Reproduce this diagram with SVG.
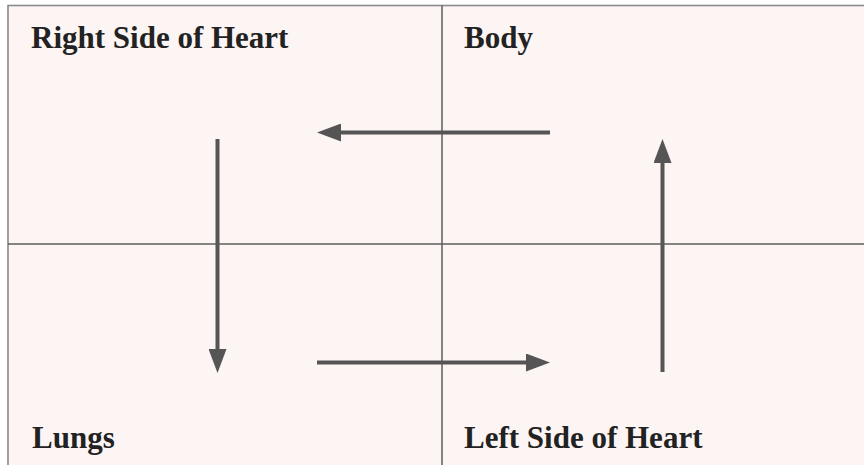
<svg xmlns="http://www.w3.org/2000/svg" width="864" height="465" viewBox="0 0 864 465">
<style>
.lbl{font-family:"Liberation Serif","Times New Roman",serif;font-weight:bold;font-size:31px;fill:#222;}
.div{stroke:#5e5e5e;stroke-width:1.5;fill:none;}
.arr{stroke:#555;stroke-width:4;fill:none;marker-end:url(#ah);}
</style>
<defs>
<marker id="ah" markerUnits="userSpaceOnUse" markerWidth="24" markerHeight="18" viewBox="0 0 24 18" refX="0" refY="9" orient="auto">
<path d="M0,0 L24,9 L0,18 z" fill="#555"/>
</marker>
</defs>
<rect x="0" y="0" width="864" height="465" fill="#ffffff"/>
<rect x="8" y="5.5" width="870" height="470" fill="#fdf5f4" stroke="#8a8a8a" stroke-width="1.6"/>
<g id="grid">
<line class="div" x1="442" y1="5.5" x2="442" y2="465"/>
<line class="div" x1="8" y1="244" x2="864" y2="244"/>
</g>
<g id="node-right-heart"><text class="lbl" x="31" y="48">Right Side of Heart</text></g>
<g id="node-body"><text class="lbl" x="464" y="48">Body</text></g>
<g id="node-lungs"><text class="lbl" x="32" y="448">Lungs</text></g>
<g id="node-left-heart"><text class="lbl" x="464" y="448">Left Side of Heart</text></g>
<g id="connectors">
<line class="arr" x1="550" y1="132.5" x2="341" y2="132.5"/>
<line class="arr" x1="217.5" y1="139" x2="217.5" y2="349"/>
<line class="arr" x1="317" y1="362.5" x2="526" y2="362.5"/>
<line class="arr" x1="662.5" y1="372" x2="662.5" y2="163"/>
</g>
</svg>
